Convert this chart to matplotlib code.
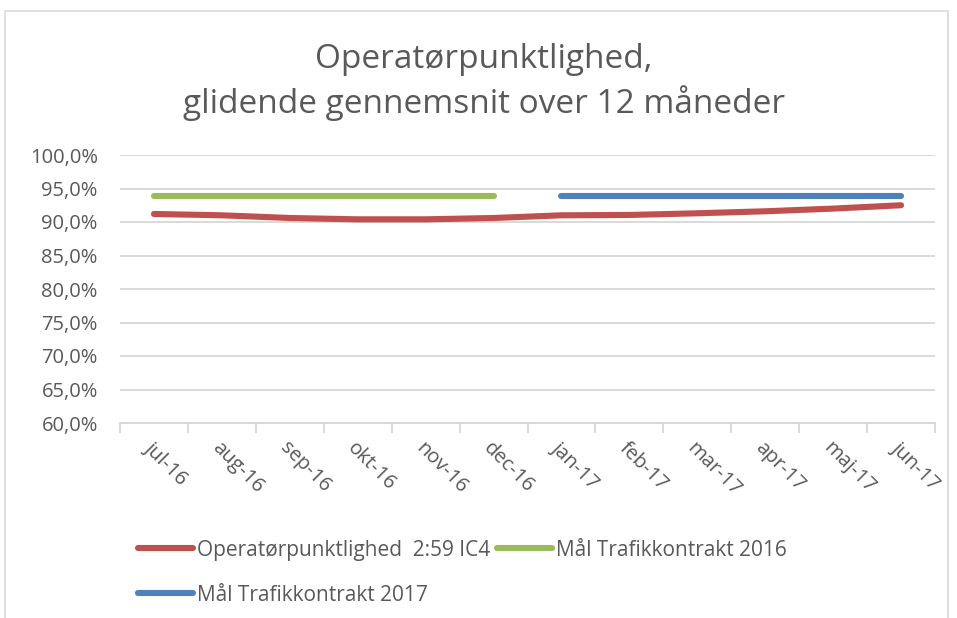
import matplotlib
matplotlib.use("Agg")
import matplotlib.pyplot as plt
from matplotlib.patches import Rectangle

# data
maaneder = ["jul-16", "aug-16", "sep-16", "okt-16", "nov-16", "dec-16",
            "jan-17", "feb-17", "mar-17", "apr-17", "maj-17", "jun-17"]
punktlighed = [91.2, 91.0, 90.6, 90.4, 90.4, 90.6,
               91.0, 91.05, 91.3, 91.6, 92.0, 92.5]
maal_2016 = [93.9, 93.9, 93.9, 93.9, 93.9, 93.9,
             None, None, None, None, None, None]
maal_2017 = [None, None, None, None, None, None,
             93.9, 93.9, 93.9, 93.9, 93.9, 93.9]
y_ticks = [60, 65, 70, 75, 80, 85, 90, 95, 100]

grey = "#595959"
plt.rcParams["font.family"] = ["Open Sans", "DejaVu Sans"]

fig = plt.figure(figsize=(9.57, 6.18), dpi=100)
W, H = 957, 618
ax = fig.add_axes([120 / W, 1 - 423 / H, (935 - 120) / W, (423 - 155) / H])

# outer chart frame
fig.patches.append(Rectangle((5 / W, -0.05), (948 - 5) / W, 1 - 11 / H + 0.05,
                             transform=fig.transFigure, fill=False,
                             edgecolor="#d9d9d9", linewidth=1.2))

x = list(range(len(maaneder)))

def clean(vals):
    return [float("nan") if v is None else v for v in vals]

ax.plot(x, punktlighed, color="#c0504d", lw=4.4, solid_capstyle="round",
        solid_joinstyle="round", label="Operatørpunktlighed  2:59 IC4", zorder=3)
ax.plot(x, clean(maal_2016), color="#9bbb59", lw=4.4, solid_capstyle="round",
        label="Mål Trafikkontrakt 2016", zorder=3)
ax.plot(x, clean(maal_2017), color="#4f81bd", lw=4.4, solid_capstyle="round",
        label="Mål Trafikkontrakt 2017", zorder=3)

ax.set_xlim(-0.5, len(maaneder) - 0.5)
ax.set_ylim(60, 100)
ax.set_yticks(y_ticks)
ax.set_yticklabels([f"{v:.1f}%".replace(".", ",") for v in y_ticks],
                   color=grey, fontsize=14.5)
ax.yaxis.grid(True, color="#d9d9d9", linewidth=1.4)
ax.set_axisbelow(True)
ax.tick_params(axis="y", length=0, pad=16)

ax.set_xticks(x)
ax.set_xticklabels(maaneder, rotation=-45, ha="left", va="top",
                   rotation_mode="anchor", color=grey, fontsize=14.5)
ax.tick_params(axis="x", which="major", length=0, pad=11)
ax.set_xticks([i - 0.5 for i in range(len(maaneder) + 1)], minor=True)
ax.tick_params(axis="x", which="minor", length=7, color="#d9d9d9", width=1.4)

for s in ["top", "right", "left"]:
    ax.spines[s].set_visible(False)
ax.spines["bottom"].set_color("#d9d9d9")
ax.spines["bottom"].set_linewidth(1.4)

fig.text(484 / W, 1 - 82 / H, "Operatørpunktlighed,\nglidende gennemsnit over 12 måneder",
         ha="center", va="center", fontsize=24, color=grey, linespacing=1.35)

handles, labels = ax.get_legend_handles_labels()
order = [0, 2, 1]
fig.legend([handles[i] for i in order], [labels[i] for i in order],
           loc="upper left", bbox_to_anchor=(119 / W, 1 - 521 / H), ncol=2,
           frameon=False, fontsize=15, handlelength=2.65, handletextpad=0.2,
           columnspacing=0.3, labelspacing=1.15, labelcolor=grey)

fig.savefig("out.png", dpi=100)
